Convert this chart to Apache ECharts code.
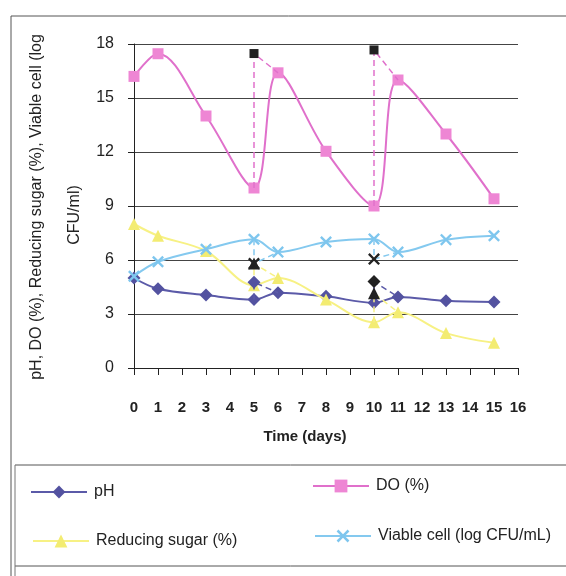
<!DOCTYPE html>
<html>
<head>
<meta charset="utf-8">
<script src="https://cdn.jsdelivr.net/npm/echarts@6/dist/echarts.min.js"></script>
<style>
html,body{margin:0;padding:0;background:#fff;}
#chart{width:566px;height:576px;}
</style>
</head>
<body>
<div id="chart"></div>
<script>
// ---- data ----
const days = [0, 1, 3, 5, 6, 8, 10, 11, 13, 15];
const pH = [5.0, 4.4, 4.05, 3.8, 4.18, 3.98, 3.62, 3.95, 3.73, 3.67];
const DO = [16.2, 17.46, 14.0, 10.0, 16.4, 12.04, 9.0, 16.0, 13.0, 9.4];
const sugar = [8.0, 7.35, 6.5, 4.6, 5.0, 3.8, 2.54, 3.1, 1.94, 1.4];
const viable = [5.1, 5.9, 6.6, 7.15, 6.44, 7.0, 7.17, 6.44, 7.13, 7.35];

// adjustment (feeding) points
const adjDays = [5, 10];
const pHAdj = [4.76, 4.8];
const DOAdj = [17.47, 17.67];
const sugarAdj = [5.8, 4.15];
const viableAdj = [5.8, 6.05];

const yTicks = [0, 3, 6, 9, 12, 15, 18];
const xTicks = [0,1,2,3,4,5,6,7,8,9,10,11,12,13,14,15,16];

const seriesNames = ['pH', 'DO (%)', 'Reducing sugar (%)', 'Viable cell (log CFU/mL)'];
const yTitle1 = 'pH, DO (%), Reducing sugar (%), Viable cell (log';
const yTitle2 = 'CFU/ml)';
const xTitle = 'Time (days)';

// ---- styles ----
const xSym = 'path://M0,1.4 L1.4,0 L5,3.6 L8.6,0 L10,1.4 L6.4,5 L10,8.6 L8.6,10 L5,6.4 L1.4,10 L0,8.6 L3.6,5 Z';
const styles = [
  {line:'#5b5aa8', mark:'#5352a0', sym:'diamond', size:13},
  {line:'#e070cb', mark:'#ee86d4', sym:'rect', size:11},
  {line:'#f7f184', mark:'#f3ec72', sym:'triangle', size:12},
  {line:'#84c9ef', mark:'#7ec6ee', sym:xSym, size:12}
];
const adjMarkColors = [['#5352a0', '#222'], ['#222', '#222'], ['#222', '#222'], ['#222', '#222']];
const allMain = [pH, DO, sugar, viable];
const allAdj = [pHAdj, DOAdj, sugarAdj, viableAdj];

const series = [];
allMain.forEach((vals, i) => {
  series.push({
    name: seriesNames[i], type: 'line', smooth: 0.35,
    data: days.map((d, k) => [d, vals[k]]),
    symbol: styles[i].sym, symbolSize: styles[i].size,
    lineStyle: {color: styles[i].line, width: 2},
    itemStyle: {color: styles[i].mark},
    z: 3 + i
  });
});
allMain.forEach((vals, i) => {
  adjDays.forEach((d, a) => {
    const k = days.indexOf(d);
    series.push({
      name: 'adj' + i + '_' + a, type: 'line',
      data: [
        {value: [d, vals[k]], symbol: 'none'},
        {value: [d, allAdj[i][a]], symbol: styles[i].sym, symbolSize: i === 1 ? 9 : styles[i].size,
         itemStyle: {color: adjMarkColors[i][a]}},
        {value: [days[k + 1], vals[k + 1]], symbol: 'none'}
      ],
      lineStyle: {color: styles[i].line, width: 1.5, type: [6, 4]},
      itemStyle: {color: adjMarkColors[i][a]},
      z: 8
    });
  });
});

const txt = '#222';
const font = '"Liberation Sans", Arial, sans-serif';

const legendBase = {
  itemWidth: 56, itemHeight: 16, itemGap: 0,
  textStyle: {fontSize: 16, color: txt, fontFamily: font, padding: [0, 0, 0, 2]},
  selectedMode: false
};

const chart = echarts.init(document.getElementById('chart'), null, {renderer: 'canvas'});
chart.setOption({
  animation: false,
  backgroundColor: '#fff',
  textStyle: {fontFamily: font},
  grid: {left: 134, right: 48, top: 44, bottom: 208},
  xAxis: {
    type: 'value', min: xTicks[0], max: xTicks[xTicks.length - 1], interval: 1,
    axisLine: {lineStyle: {color: '#222', width: 1}},
    axisTick: {show: true, inside: false, length: 7, lineStyle: {color: '#222'}},
    axisLabel: {fontSize: 15, fontWeight: 'bold', color: txt, margin: 32, fontFamily: font},
    splitLine: {show: false}
  },
  yAxis: {
    type: 'value', min: yTicks[0], max: yTicks[yTicks.length - 1], interval: 3,
    axisLine: {show: true, lineStyle: {color: '#222', width: 1}},
    axisTick: {show: true, inside: false, length: 6, lineStyle: {color: '#222'}},
    axisLabel: {fontSize: 16, color: txt, margin: 20, fontFamily: font},
    splitLine: {show: true, lineStyle: {color: '#444', width: 1}}
  },
  legend: [
    Object.assign({data: [seriesNames[0]], left: 25, top: 479}, legendBase),
    Object.assign({data: [seriesNames[1]], left: 307, top: 473}, legendBase),
    Object.assign({data: [seriesNames[2]], left: 27, top: 528}, legendBase),
    Object.assign({data: [seriesNames[3]], left: 309, top: 523}, legendBase)
  ],
  graphic: [
    {type: 'line', shape: {x1: 11, y1: 16, x2: 566, y2: 16}, style: {stroke: '#555', lineWidth: 1}},
    {type: 'line', shape: {x1: 11, y1: 16, x2: 11, y2: 576}, style: {stroke: '#555', lineWidth: 1}},
    {type: 'line', shape: {x1: 15, y1: 465, x2: 566, y2: 465}, style: {stroke: '#555', lineWidth: 1}},
    {type: 'line', shape: {x1: 15, y1: 566, x2: 566, y2: 566}, style: {stroke: '#555', lineWidth: 1}},
    {type: 'line', shape: {x1: 15, y1: 465, x2: 15, y2: 576}, style: {stroke: '#777', lineWidth: 1}},
    {type: 'text', x: 37, y: 207, rotation: Math.PI / 2,
     style: {text: yTitle1, fontSize: 16, fill: txt, fontFamily: font, align: 'center', verticalAlign: 'middle'}},
    {type: 'text', x: 75, y: 215, rotation: Math.PI / 2,
     style: {text: yTitle2, fontSize: 16, fill: txt, fontFamily: font, align: 'center', verticalAlign: 'middle'}},
    {type: 'text', x: 305, y: 437,
     style: {text: xTitle, fontSize: 15, fontWeight: 'bold', fill: txt, fontFamily: font, align: 'center', verticalAlign: 'middle'}}
  ],
  series: series
});
</script>
</body>
</html>
